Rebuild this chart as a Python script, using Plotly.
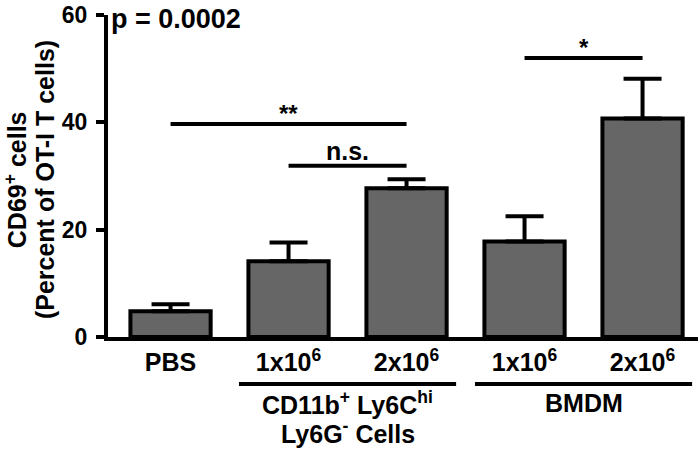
import plotly.graph_objects as go

# data
doses = ["PBS", "1x10<sup>6</sup>", "2x10<sup>6</sup>", "1x10<sup>6</sup>", "2x10<sup>6</sup>"]
means = [4.8, 14.1, 27.7, 17.8, 40.7]
errors = [1.3, 3.5, 1.7, 4.7, 7.4]
y_ticks = [0, 20, 40, 60]

# significance brackets: (from bar, to bar, height, label)
brackets = [(0, 2, 39.7, "**"), (1, 2, 31.9, "n.s."), (3, 4, 52.0, "*")]

# groups under the axis: (first bar, last bar, label lines)
groups = [(1, 2, ["CD11b<sup>+</sup> Ly6C<sup>hi</sup>", "Ly6G<sup>-</sup> Cells"]),
          (3, 4, ["BMDM"])]

y_title = ["CD69<sup>+</sup> cells", "(Percent of OT-I T cells)"]

font_fam = "Arial, Liberation Sans, sans-serif"
xs = list(range(len(means)))

fig = go.Figure()
fig.add_trace(go.Bar(
    x=xs, y=means, width=0.68,
    marker=dict(color="#666666", line=dict(color="black", width=4)),
    error_y=dict(type="data", array=errors, arrayminus=[0] * len(errors),
                 symmetric=False, color="black", thickness=4, width=19),
    showlegend=False,
))

shapes = []
annotations = []
for a, b, h, lab in brackets:
    shapes.append(dict(type="line", x0=a, x1=b, y0=h, y1=h, xref="x", yref="y",
                       line=dict(color="black", width=4)))
    annotations.append(dict(x=(a + b) / 2, y=h, text="<b>%s</b>" % lab, showarrow=False,
                            xref="x", yref="y", yanchor="bottom",
                            yshift=-5 if "*" in lab else -1,
                            font=dict(size=24 if "*" in lab else 25, color="black")))

for a, b, lines in groups:
    shapes.append(dict(type="line", x0=a - 0.42, x1=b + 0.42, y0=-0.146, y1=-0.146,
                       xref="x", yref="paper", line=dict(color="black", width=4)))
    for i, line in enumerate(lines):
        annotations.append(dict(x=(a + b) / 2, y=-0.205 - 0.09 * i, text="<b>%s</b>" % line,
                                showarrow=False, xref="x", yref="paper",
                                xanchor="center", yanchor="middle",
                                font=dict(size=25, color="black")))

# rotated y title, two tightly spaced lines
for i, line in enumerate(y_title):
    annotations.append(dict(x=-0.156 + 0.049 * i, y=0.49, xref="paper", yref="paper",
                            text="<b>%s</b>" % line, textangle=-90, showarrow=False,
                            xanchor="center", yanchor="middle",
                            font=dict(size=25, color="black")))

annotations.append(dict(x=0.002, y=0.987, xref="paper", yref="paper", text="<b>p = 0.0002</b>",
                        showarrow=False, xanchor="left", yanchor="middle",
                        font=dict(size=27, color="black")))

fig.update_layout(
    width=700, height=453,
    margin=dict(l=108, r=2, t=15, b=116),
    plot_bgcolor="white", paper_bgcolor="white",
    font=dict(family=font_fam, color="black", size=24),
    shapes=shapes, annotations=annotations,
    xaxis=dict(range=[-0.53, 4.47], tickvals=xs, ticktext=["<b>%s</b>" % d for d in doses],
               showline=True, linecolor="black", linewidth=4, ticks="", showgrid=False,
               zeroline=False, tickfont=dict(size=25), ticklabelstandoff=0),
    yaxis=dict(range=[0, 60], tickvals=y_ticks, ticktext=["<b>%d</b>" % v for v in y_ticks],
               showline=True, linecolor="black", linewidth=4, ticks="outside", ticklen=8,
               tickwidth=4, tickcolor="black", showgrid=False, zeroline=False,
               tickfont=dict(size=23), ticklabeloverflow="allow", ticklabelstandoff=4),
)

# drop the browser's default 8px body margin so the figure fills the window
fig.write_html("out.html", config={"displayModeBar": False},
               post_script="document.body.style.margin = '0';")
